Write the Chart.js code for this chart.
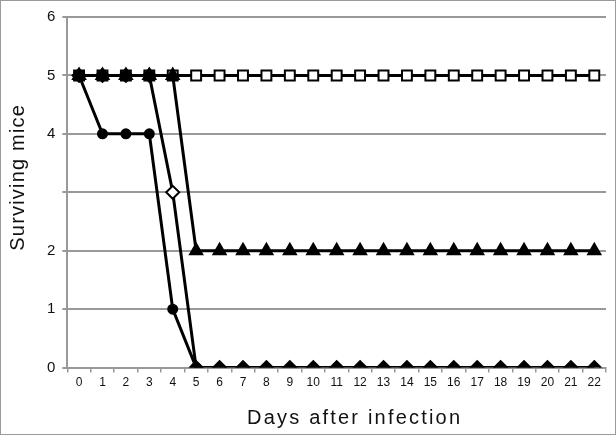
<!DOCTYPE html>
<html>
<head>
<meta charset="utf-8">
<script src="https://cdn.jsdelivr.net/npm/chart.js@4.4.0/dist/chart.umd.min.js"></script>
<style>
  html, body { margin: 0; padding: 0; background: #fff; }
  #wrap { position: relative; width: 616px; height: 435px; box-sizing: border-box; border: 1px solid #9a9a9a; }
</style>
</head>
<body>
<div id="wrap"><canvas id="chart"></canvas></div>
<script>
// days after infection
const days = ['0','1','2','3','4','5','6','7','8','9','10','11','12','13','14','15','16','17','18','19','20','21','22'];

// surviving mice per group
const squareGroup   = [5,5,5,5,5,5,5,5,5,5,5,5,5,5,5,5,5,5,5,5,5,5,5];
const triangleGroup = [5,5,5,5,5,2,2,2,2,2,2,2,2,2,2,2,2,2,2,2,2,2,2];
const diamondGroup  = [5,5,5,5,3,0,0,0,0,0,0,0,0,0,0,0,0,0,0,0,0,0,0];
const circleGroup   = [5,4,4,4,1,0,null,null,null,null,null,null,null,null,null,null,null,null,null,null,null,null,null];

// the one hollow diamond on day 4
const openDiamondDays = ['4'];

const yTickLabels = ['0','1','2','','4','5','6'];

const xTitle = 'Days after infection';
const yTitle = 'Surviving mice';

const font = 'Liberation Sans, Arial, sans-serif';
const grey = '#999';
const ink = '#111';

function series(data, style, radius, fill, order) {
    return {
        data: data,
        borderColor: '#000',
        borderWidth: 3,
        pointStyle: style,
        pointRadius: radius,
        pointHoverRadius: radius,
        pointBorderColor: '#000',
        pointBorderWidth: 2,
        pointBackgroundColor: fill,
        tension: 0,
        spanGaps: false,
        order: order
    };
}

// axis titles are drawn here so they can get the wide letter spacing of the original
const spacedTitles = {
    id: 'spacedTitles',
    afterDraw(chart) {
        const { ctx, chartArea } = chart;
        ctx.save();
        ctx.fillStyle = ink;
        ctx.font = '20px ' + font;
        ctx.textAlign = 'center';
        ctx.textBaseline = 'middle';

        ctx.letterSpacing = '2.2px';
        ctx.fillText(xTitle, (chartArea.left + chartArea.right) / 2 + 18, 417);

        ctx.letterSpacing = '1.2px';
        ctx.translate(17, (chartArea.top + chartArea.bottom) / 2 - 15);
        ctx.rotate(-Math.PI / 2);
        ctx.fillText(yTitle, 0, 0);
        ctx.restore();
    }
};

new Chart(document.getElementById('chart'), {
    type: 'line',
    data: {
        labels: days,
        datasets: [
            series(squareGroup, 'rect', 7, '#fff', 4),
            series(triangleGroup, 'triangle', 7, '#000', 2),
            series(diamondGroup, 'rectRot', 6.5,
                ctx => openDiamondDays.includes(days[ctx.dataIndex]) ? '#fff' : '#000', 1),
            series(circleGroup, 'circle', 4.5, '#000', 3)
        ]
    },
    options: {
        responsive: true,
        maintainAspectRatio: false,
        animation: false,
        layout: { padding: { left: 4, right: 9, top: 4, bottom: 4 } },
        plugins: {
            legend: { display: false },
            tooltip: { enabled: false }
        },
        scales: {
            x: {
                type: 'category',
                offset: true,
                grid: {
                    offset: true,
                    drawOnChartArea: false,
                    drawTicks: true,
                    tickLength: 5,
                    color: grey,
                    lineWidth: 1.5
                },
                border: { color: grey, width: 2 },
                ticks: {
                    color: ink,
                    font: { family: font, size: 12 },
                    maxRotation: 0,
                    autoSkip: false,
                    padding: 3
                },
                title: {
                    display: true,
                    text: xTitle,
                    color: 'rgba(0,0,0,0)',
                    font: { family: font, size: 20 },
                    padding: { top: 13, bottom: 0 }
                }
            },
            y: {
                min: 0,
                max: 6,
                grid: {
                    color: grey,
                    lineWidth: 2,
                    tickLength: 5
                },
                border: { color: grey, width: 2 },
                ticks: {
                    stepSize: 1,
                    color: ink,
                    font: { family: font, size: 15 },
                    padding: 7,
                    callback: (v) => yTickLabels[v]
                },
                title: {
                    display: true,
                    text: yTitle,
                    color: 'rgba(0,0,0,0)',
                    font: { family: font, size: 20 },
                    padding: { top: 0, bottom: 11 }
                }
            }
        }
    },
    plugins: [spacedTitles]
});
</script>
</body>
</html>
